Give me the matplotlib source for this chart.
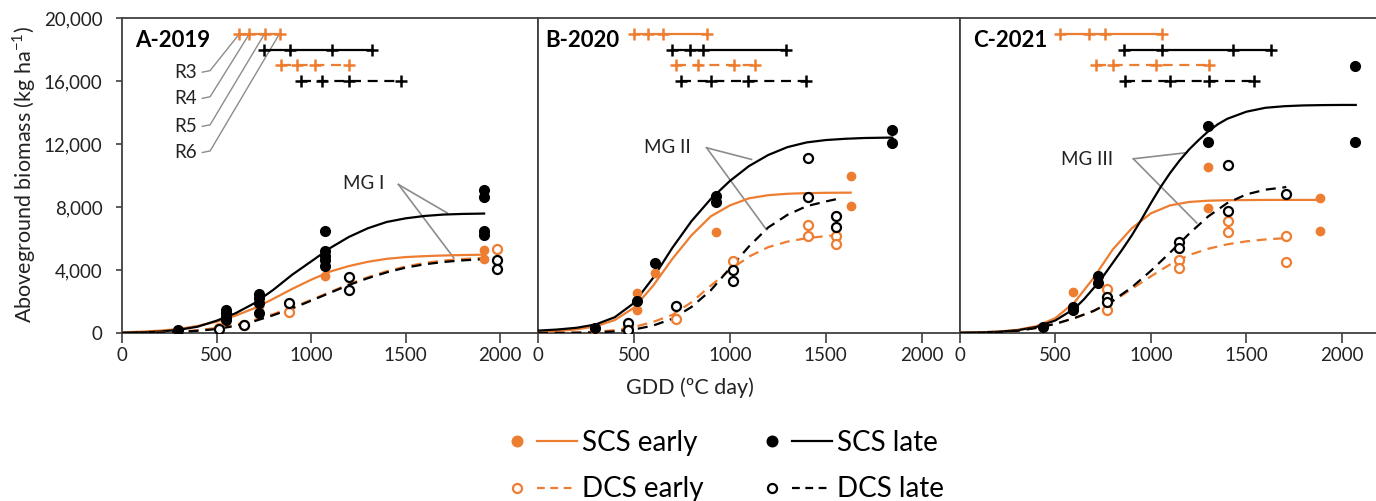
import matplotlib
matplotlib.use("Agg")
import matplotlib.pyplot as plt
from matplotlib.lines import Line2D
from matplotlib.legend_handler import HandlerTuple

plt.rcParams['font.family'] = ['Lato', 'DejaVu Sans']

ORANGE = '#ED7D31'
FRAME = '#404040'

# ---- fitted curves (GDD grid, biomass kg/ha) ----
a_grid = [0, 100, 200, 300, 400, 500, 600, 700, 800, 900, 1000, 1100, 1200, 1300, 1400, 1500, 1600, 1700, 1800, 1900, 1915]
a_scs_late_fit = [20, 45, 90, 200, 400, 780, 1250, 1890, 2740, 3700, 4540, 5390, 6100, 6650, 7050, 7280, 7430, 7520, 7560, 7580, 7585]
a_scs_early_fit = [40, 85, 150, 250, 450, 720, 1100, 1570, 2170, 2800, 3380, 3900, 4250, 4520, 4710, 4820, 4880, 4920, 4950, 4970, 4975]
a_dcs_early_fit = [0, 10, 40, 90, 180, 320, 530, 830, 1200, 1620, 2100, 2600, 3100, 3540, 3920, 4220, 4450, 4600, 4700, 4760, 4770]
a_dcs_late_fit = [0, 10, 30, 70, 140, 250, 450, 750, 1130, 1560, 2050, 2550, 3050, 3480, 3850, 4150, 4360, 4510, 4610, 4680, 4690]

b_grid_sl = [0, 100, 200, 300, 400, 500, 600, 700, 800, 900, 1000, 1100, 1200, 1300, 1400, 1500, 1600, 1700, 1800, 1847]
b_scs_late_fit = [150, 220, 330, 540, 1000, 1900, 3500, 5400, 7100, 8500, 9650, 10600, 11300, 11800, 12100, 12250, 12330, 12380, 12400, 12410]
b_grid_se = [0, 100, 200, 300, 400, 500, 600, 700, 800, 900, 1000, 1100, 1200, 1300, 1400, 1500, 1600, 1630]
b_scs_early_fit = [80, 130, 230, 420, 820, 1600, 3000, 4700, 6200, 7400, 8100, 8550, 8750, 8840, 8880, 8900, 8910, 8910]
b_grid_d = [0, 100, 200, 300, 400, 500, 600, 700, 800, 900, 1000, 1100, 1200, 1300, 1400, 1500, 1556]
b_dcs_late_fit = [0, 5, 15, 40, 100, 220, 470, 900, 1650, 2700, 4100, 5500, 6700, 7500, 8050, 8350, 8500]
b_dcs_early_fit = [0, 10, 30, 80, 180, 380, 700, 1150, 1950, 3000, 4000, 4850, 5450, 5800, 6020, 6150, 6200]

c_grid_sl = [0, 100, 200, 300, 400, 500, 600, 650, 700, 750, 800, 850, 900, 950, 1000, 1050, 1100, 1150,
             1200, 1250, 1300, 1350, 1400, 1500, 1600, 1700, 1800, 1900, 2000, 2073]
c_scs_late_fit = [20, 40, 80, 170, 380, 800, 1550, 2150, 2850, 3600, 4450, 5300, 6200, 7200, 8250, 9250, 10150, 10950,
                  11650, 12250, 12800, 13250, 13600, 14050, 14300, 14400, 14450, 14470, 14480, 14480]
c_grid_se = [0, 100, 200, 300, 400, 500, 600, 700, 800, 900, 1000, 1100, 1200, 1300, 1400, 1500, 1600, 1700, 1800, 1888]
c_scs_early_fit = [20, 40, 90, 200, 430, 950, 1950, 3500, 5300, 6650, 7600, 8100, 8320, 8400, 8430, 8440, 8450, 8450, 8450, 8450]
c_grid_d = [0, 100, 200, 300, 400, 500, 600, 700, 800, 900, 1000, 1100, 1200, 1300, 1400, 1500, 1600, 1700, 1709]
c_dcs_late_fit = [0, 15, 50, 140, 320, 580, 950, 1400, 2050, 2900, 3950, 5100, 6300, 7400, 8250, 8800, 9100, 9250, 9280]
c_dcs_early_fit = [0, 15, 50, 140, 320, 580, 950, 1400, 2000, 2800, 3600, 4350, 4950, 5350, 5630, 5820, 5940, 6020, 6030]

# ---- observations ----
a_sl_x = [298, 551, 551, 551, 551, 722, 722, 722, 722, 1076, 1076, 1076, 1076, 1076, 1915, 1915, 1915, 1915]
a_sl_y = [190, 1465, 1250, 1040, 830, 2480, 2210, 1890, 1300, 6450, 5180, 4860, 4610, 4230, 9070, 8640, 6500, 6240]
a_se_x = [298, 551, 722, 1076, 1915, 1915]
a_se_y = [150, 1000, 1700, 3630, 5240, 4690]
a_de_x = [511, 643, 882, 1982]
a_de_y = [300, 510, 1320, 5350]
a_dl_x = [511, 643, 882, 1200, 1200, 1982, 1982]
a_dl_y = [250, 500, 1890, 3550, 2740, 4650, 4080]

b_sl_x = [297, 514, 609, 927, 927, 1847, 1847]
b_sl_y = [300, 2060, 4440, 8730, 8300, 12890, 12080]
b_se_x = [297, 514, 514, 609, 927, 1630, 1630]
b_se_y = [200, 2570, 1460, 3800, 6390, 9960, 8050]
b_de_x = [470, 719, 1014, 1408, 1408, 1556, 1556]
b_de_y = [400, 870, 4540, 6880, 6140, 6180, 5650]
b_dl_x = [470, 470, 719, 1014, 1014, 1408, 1408, 1556, 1556]
b_dl_y = [620, 200, 1720, 4010, 3270, 11130, 8640, 7410, 6730]

c_sl_x = [436, 592, 592, 722, 722, 1299, 1299, 2069, 2069]
c_sl_y = [400, 1680, 1460, 3590, 3160, 13140, 12120, 16960, 12120]
c_se_x = [436, 592, 722, 1299, 1299, 1888, 1888]
c_se_y = [350, 2630, 3300, 10550, 7940, 8580, 6450]
c_de_x = [771, 771, 1146, 1146, 1402, 1402, 1709, 1709]
c_de_y = [2780, 1460, 4650, 4120, 7090, 6390, 6140, 4480]
c_dl_x = [771, 771, 1146, 1146, 1402, 1402, 1709]
c_dl_y = [2270, 1950, 5750, 5390, 10660, 7770, 8850]

# ---- phenology R3..R6 (GDD) ----
a_pheno = {'se': [621, 674, 754, 833], 'sl': [752, 890, 1111, 1322],
           'de': [842, 925, 1019, 1199], 'dl': [948, 1058, 1199, 1478]}
b_pheno = {'se': [500, 571, 653, 879], 'sl': [701, 792, 861, 1295],
           'de': [722, 835, 1021, 1130], 'dl': [748, 901, 1096, 1396]}
c_pheno = {'se': [523, 675, 762, 1060], 'sl': [861, 1060, 1429, 1631],
           'de': [710, 800, 1029, 1306], 'dl': [866, 1098, 1306, 1541]}
stages = ['R3', 'R4', 'R5', 'R6']
pheno_rows = {'se': 19000, 'sl': 18000, 'de': 17000, 'dl': 16000}

panels = [
    dict(title='A-2019', pheno=a_pheno,
         fits=[(a_grid, a_scs_early_fit, 'se'), (a_grid, a_scs_late_fit, 'sl'),
               (a_grid, a_dcs_early_fit, 'de'), (a_grid, a_dcs_late_fit, 'dl')],
         obs=[(a_se_x, a_se_y, 'se'), (a_sl_x, a_sl_y, 'sl'), (a_de_x, a_de_y, 'de'), (a_dl_x, a_dl_y, 'dl')]),
    dict(title='B-2020', pheno=b_pheno,
         fits=[(b_grid_se, b_scs_early_fit, 'se'), (b_grid_sl, b_scs_late_fit, 'sl'),
               (b_grid_d, b_dcs_early_fit, 'de'), (b_grid_d, b_dcs_late_fit, 'dl')],
         obs=[(b_se_x, b_se_y, 'se'), (b_sl_x, b_sl_y, 'sl'), (b_de_x, b_de_y, 'de'), (b_dl_x, b_dl_y, 'dl')]),
    dict(title='C-2021', pheno=c_pheno,
         fits=[(c_grid_se, c_scs_early_fit, 'se'), (c_grid_sl, c_scs_late_fit, 'sl'),
               (c_grid_d, c_dcs_early_fit, 'de'), (c_grid_d, c_dcs_late_fit, 'dl')],
         obs=[(c_se_x, c_se_y, 'se'), (c_sl_x, c_sl_y, 'sl'), (c_de_x, c_de_y, 'de'), (c_dl_x, c_dl_y, 'dl')]),
]

color = {'se': ORANGE, 'sl': 'black', 'de': ORANGE, 'dl': 'black'}
dashed = {'se': False, 'sl': False, 'de': True, 'dl': True}
filled = {'se': True, 'sl': True, 'de': False, 'dl': False}
DASH = (4.5, 3)

W, H = 1376, 501
fig = plt.figure(figsize=(W / 100, H / 100), dpi=100)

def px_axes(x0, x1, y0=18, y1=333):
    return fig.add_axes([x0 / W, 1 - y1 / H, (x1 - x0) / W, (y1 - y0) / H])

axes = [px_axes(122, 538), px_axes(538, 960), px_axes(960, 1380)]

for i, (ax, p) in enumerate(zip(axes, panels)):
    ax.set_xlim(0, 2200)
    ax.set_ylim(0, 20000)
    for s in ax.spines.values():
        s.set_color(FRAME)
        s.set_linewidth(1.3)
    ax.set_xticks([0, 500, 1000, 1500, 2000])
    ax.tick_params(axis='x', direction='out', length=7, width=1.2, color=FRAME,
                   labelsize=13.5, pad=3, labelcolor='#222222')
    if i == 0:
        ax.set_yticks(range(0, 20001, 4000))
        ax.set_yticklabels([f'{v:,}' for v in range(0, 20001, 4000)])
        ax.tick_params(axis='y', direction='out', length=4, width=1.2, color=FRAME,
                       labelsize=13.5, pad=10, labelcolor='#222222')
    else:
        ax.set_yticks([])

    for gx, gy, k in p['fits']:
        ln, = ax.plot(gx, gy, color=color[k], lw=1.6, zorder=3)
        if dashed[k]:
            ln.set_dashes(DASH)
    for ox, oy, k in p['obs']:
        if filled[k]:
            ax.plot(ox, oy, 'o', ms=6 if k == 'se' else 7, color=color[k],
                    mec=color[k], ls='none', zorder=4)
        else:
            ax.plot(ox, oy, 'o', ms=6.5, mfc='white', mec=color[k], mew=1.6,
                    ls='none', zorder=4)

    for k, row in pheno_rows.items():
        xs = p['pheno'][k]
        ln, = ax.plot(xs, [row] * len(xs), color=color[k], lw=1.6,
                      marker='+', ms=9, mew=1.8, zorder=3)
        if dashed[k]:
            ln.set_dashes(DASH)

    ax.text({0: 69, 1: 36, 2: 68}[i], 18600, p['title'], fontsize=16,
            fontweight='bold', va='center', ha='left')

# R3..R6 labels (panel A)
ax = axes[0]
label_y = [16560, 14900, 13120, 11460]
for st, yy, target in zip(stages, label_y, a_pheno['se']):
    ax.text(397, yy, st, fontsize=13.5, ha='right', va='center', color='#222222')
    ax.plot([425, 466, target], [yy, yy + 100, pheno_rows['se']],
            color='#8c8c8c', lw=1, zorder=2)

# MG annotations
mg = [(axes[0], 'MG I', (1276, 9490), (1462, 9430), [(1720, 7620), (1755, 4760)]),
      (axes[1], 'MG II', (677, 11780), (879, 11760), [(1113, 11020), (1191, 6560)]),
      (axes[2], 'MG III', (663, 10990), (908, 11060), [(1188, 11450), (1240, 6990)])]
for a, txt, tpos, start, ends in mg:
    a.text(tpos[0], tpos[1], txt, fontsize=13.5, ha='center', va='center', color='#222222')
    for e in ends:
        a.plot([start[0], e[0]], [start[1], e[1]], color='#8c8c8c', lw=1.2, zorder=2)

fig.text(24 / W, 1 - 175 / H, 'Aboveground biomass (kg ha$^{\\mathregular{-1}}$)',
         rotation=90, ha='center', va='center', fontsize=15.5, color='#222222')
fig.text(690 / W, 1 - 388 / H, 'GDD (ºC day)', ha='center', va='center',
         fontsize=15.5, color='#222222')

def handle(k):
    m = Line2D([], [], marker='o', ls='none', ms=7 if filled[k] else 6.5,
               mfc=color[k] if filled[k] else 'white', mec=color[k], mew=1.6)
    l = Line2D([], [], color=color[k], lw=1.6)
    if dashed[k]:
        l.set_dashes((3.5, 2.5))
    return (m, l)

handles = [handle('se'), handle('de'), handle('sl'), handle('dl')]
labels = ['SCS early', 'DCS early', 'SCS late', 'DCS late']
fig.legend(handles, labels, ncol=2, loc='center left',
           bbox_to_anchor=(497.5 / W, 1 - 466 / H), frameon=False,
           handler_map={tuple: HandlerTuple(ndivide=None, pad=0.02)},
           handlelength=2.85, handletextpad=0.2, columnspacing=1.75,
           labelspacing=0.75, fontsize=20, borderpad=0, borderaxespad=0)

fig.savefig('out.png', dpi=100)
